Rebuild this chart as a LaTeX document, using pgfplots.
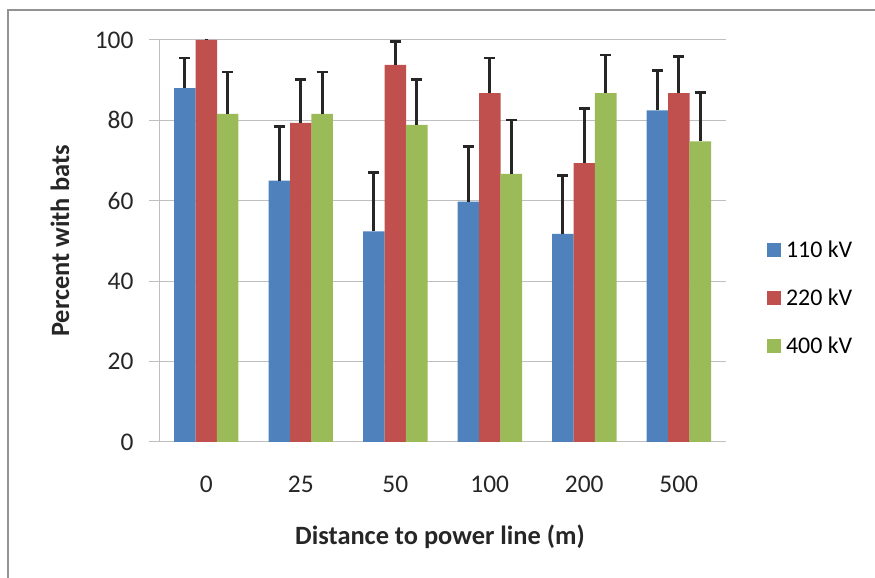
\documentclass[border=0pt]{standalone}
\usepackage{pgfplots}
\pgfplotsset{compat=1.18}
\usepackage{pgfplotstable}
\usepackage{fontspec}
\setmainfont{Carlito}
\definecolor{cblue}{HTML}{4F81BD}
\definecolor{cred}{HTML}{C0504D}
\definecolor{cgreen}{HTML}{9BBB59}
\definecolor{cgrid}{HTML}{BFBFBF}
\pgfplotstableread{
x b bE r rE g gE
0 88.0 7.5 100 8 81.6 10.4
1 65.0 13.5 79.4 10.8 81.6 10.4
2 52.4 14.7 93.8 5.8 78.9 11.3
3 59.8 13.7 86.8 8.7 66.7 13.4
4 51.8 14.5 69.4 13.5 86.8 9.5
5 82.5 9.9 86.8 9.1 74.8 12.2
}\datatable
\begin{document}
\begin{tikzpicture}
\useasboundingbox (0bp,0bp) rectangle (875bp,578bp);
\draw[gray!85, line width=1.5bp] (8bp,-5bp) -- (8bp,568bp) -- (880bp,568bp);
\begin{axis}[
  at={(159bp,136bp)}, anchor=south west,
  scale only axis, width=567bp, height=402bp,
  xmin=-0.5, xmax=5.5, ymin=0, ymax=100,
  axis lines*=left,
  axis line style={cgrid, line width=1bp},
  xtick={0,1,2,3,4,5},
  xticklabels={0,25,50,100,200,500},
  minor xtick={-0.5,0.5,1.5,2.5,3.5,4.5,5.5},
  ytick={0,20,40,60,80,100},
  tick align=outside,
  major tick length=10bp, minor tick length=9bp,
  xtick style={draw=none},
  minor x tick style={cgrid, line width=1bp},
  ytick style={cgrid, line width=1bp},
  ymajorgrids, grid style={cgrid, line width=1bp},
  /pgf/number format/assume math mode=true,
  ticklabel style={font=\fontsize{25.5}{25.5}\selectfont, text=black!85},
  xticklabel style={yshift=-20bp},
  yticklabel style={xshift=-12bp},
  clip marker paths=true,
  legend style={at={(1.072,0.505)}, anchor=north west, draw=none, fill=none,
    font=\fontsize{24}{24}\selectfont, row sep=26bp, inner sep=0pt},
  legend cell align=left,
  legend image code/.code={\fill[#1] (0bp,-7bp) rectangle (14bp,7bp);},
  error bars/y dir=plus, error bars/y explicit,
  error bars/error bar style={black!85, line width=2.6bp},
  error bars/error mark options={rotate=90, mark size=5.5bp, line width=2.6bp, black!85},
]
\addplot[ybar, bar width=21.5bp, bar shift=0bp, fill=cblue, draw=none] table[x expr=\thisrow{x}-0.2275, y=b, y error=bE] {\datatable};
\addlegendentry{\hspace{3bp}110 kV}
\addplot[ybar, bar width=21.5bp, bar shift=0bp, fill=cred, draw=none] table[x=x, y=r, y error=rE] {\datatable};
\addlegendentry{\hspace{3bp}220 kV}
\addplot[ybar, bar width=21.5bp, bar shift=0bp, fill=cgreen, draw=none] table[x expr=\thisrow{x}+0.2275, y=g, y error=gE] {\datatable};
\addlegendentry{\hspace{3bp}400 kV}
\end{axis}
\node[rotate=90, font=\bfseries\fontsize{26.5}{26.5}\selectfont, text=black!85] at (60bp,337bp) {Percent with bats};
\node[font=\bfseries\fontsize{26.5}{26.5}\selectfont, text=black!85] at (440bp,41bp) {Distance to power line (m)};
\end{tikzpicture}
\end{document}
